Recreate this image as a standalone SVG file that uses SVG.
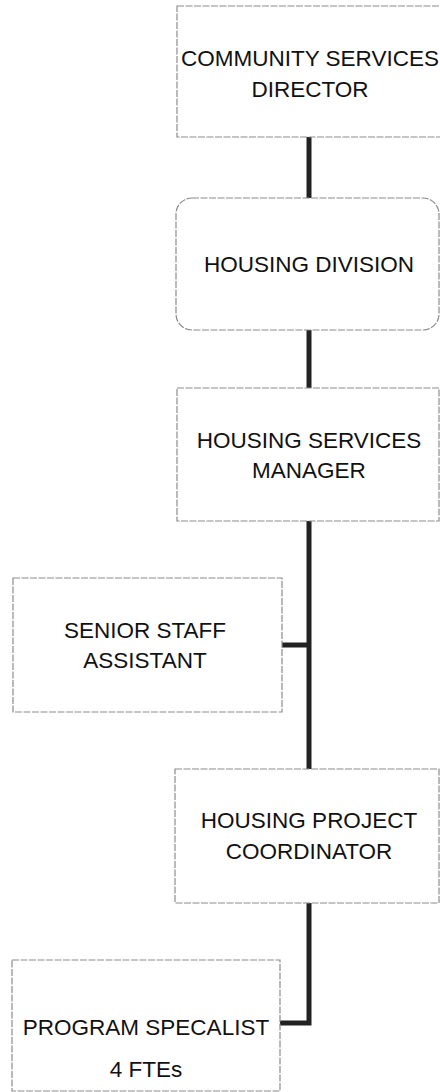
<svg xmlns="http://www.w3.org/2000/svg" width="440" height="1092" viewBox="0 0 440 1092">
<style>
.box{fill:#ffffff;stroke:#8c8c8c;stroke-width:1.2;stroke-dasharray:7 1.5}
.lbl{font-family:"Liberation Sans",Arial,sans-serif;font-size:22.5px;fill:#111111;text-anchor:middle}
.con{fill:none;stroke:#222222;stroke-width:5}
</style>
<rect width="440" height="1092" fill="#ffffff"/>
<g id="connectors">
<line class="con" x1="309" y1="137" x2="309" y2="198"/>
<line class="con" x1="309" y1="330" x2="309" y2="388"/>
<line class="con" x1="309" y1="521" x2="309" y2="769"/>
<line class="con" x1="282" y1="645" x2="309" y2="645"/>
<path class="con" d="M309 903 V1023 H280"/>
</g>
<g id="community-services-director">
<rect class="box" x="177" y="6" width="280" height="131"/>
<text class="lbl" x="310" y="66">COMMUNITY SERVICES</text>
<text class="lbl" x="310" y="97">DIRECTOR</text>
</g>
<g id="housing-division">
<rect class="box" x="176" y="198" width="263" height="132" rx="16" ry="16"/>
<text class="lbl" x="309" y="272">HOUSING DIVISION</text>
</g>
<g id="housing-services-manager">
<rect class="box" x="177" y="388" width="262" height="133"/>
<text class="lbl" x="309" y="448">HOUSING SERVICES</text>
<text class="lbl" x="309" y="478">MANAGER</text>
</g>
<g id="senior-staff-assistant">
<rect class="box" x="13" y="578" width="269" height="134"/>
<text class="lbl" x="145" y="638">SENIOR STAFF</text>
<text class="lbl" x="145" y="668">ASSISTANT</text>
</g>
<g id="housing-project-coordinator">
<rect class="box" x="175" y="769" width="264" height="134"/>
<text class="lbl" x="309" y="828">HOUSING PROJECT</text>
<text class="lbl" x="309" y="859">COORDINATOR</text>
</g>
<g id="program-specalist">
<rect class="box" x="12" y="960" width="268" height="131"/>
<text class="lbl" x="146" y="1035">PROGRAM SPECALIST</text>
<text class="lbl" x="146" y="1077">4 FTEs</text>
</g>
</svg>
